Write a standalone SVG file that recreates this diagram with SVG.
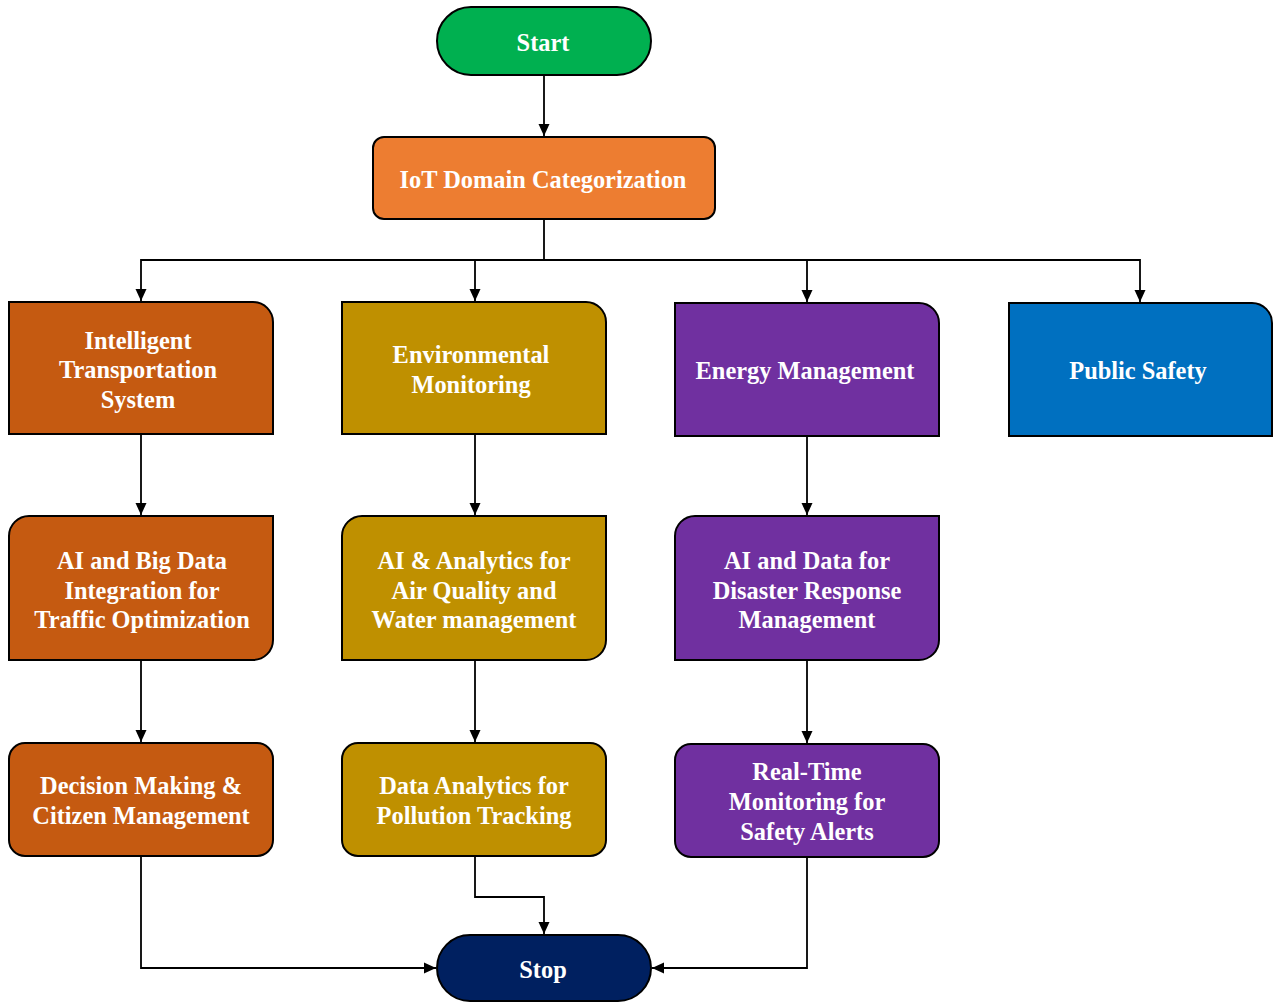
<svg xmlns="http://www.w3.org/2000/svg" width="1276" height="1003" viewBox="0 0 1276 1003">
  <defs>
    <marker id="arrow" viewBox="0 0 12 12" markerWidth="12" markerHeight="13" refX="12" refY="6" orient="auto" markerUnits="userSpaceOnUse">
      <path d="M0,0.5 L12,6 L0,11.5 Z" fill="#000"/>
    </marker>
  </defs>
  <style>
    .box { stroke: #000; stroke-width: 2; }
    .lbl { font-family: "Liberation Serif", "Times New Roman", serif; font-weight: bold; font-size: 24.4px; fill: #fff; text-anchor: middle; dominant-baseline: central; }
    .edge { fill: none; stroke: #000; stroke-width: 1.8; marker-end: url(#arrow); }
    .its { fill: #C55A11; }
    .env { fill: #BF9000; }
    .eng { fill: #7030A0; }
    .pub { fill: #0070C0; }
  </style>
  <rect width="1276" height="1003" fill="#fff"/>

  <g id="connectors">
    <path class="edge" d="M544,75 V136"/>
    <path class="edge" d="M544,219 V260 H141 V301"/>
    <path class="edge" d="M544,260 H475 V301"/>
    <path class="edge" d="M544,260 H807 V302"/>
    <path class="edge" d="M544,260 H1140 V302"/>
    <path class="edge" d="M141,434 V515"/>
    <path class="edge" d="M475,434 V515"/>
    <path class="edge" d="M807,436 V515"/>
    <path class="edge" d="M141,660 V742"/>
    <path class="edge" d="M475,660 V742"/>
    <path class="edge" d="M807,660 V743"/>
    <path class="edge" d="M141,856 V968 H436"/>
    <path class="edge" d="M475,856 V897 H544 V934"/>
    <path class="edge" d="M807,857 V968 H652"/>
  </g>

  <g id="start">
    <rect class="box" x="437" y="7" width="214" height="68" rx="34" fill="#00B050"/>
    <text class="lbl" x="543" y="42">Start</text>
  </g>

  <g id="iot-domain">
    <rect class="box" x="373" y="137" width="342" height="82" rx="11" fill="#ED7D31"/>
    <text class="lbl" x="543" y="179">IoT Domain Categorization</text>
  </g>

  <!-- domain row: rounded top-right corner -->
  <g id="its">
    <path class="box its" d="M9,302 H253 A20,20 0 0 1 273,322 V434 H9 Z"/>
    <text class="lbl" x="138" y="340">Intelligent</text>
    <text class="lbl" x="138" y="369">Transportation</text>
    <text class="lbl" x="138" y="399">System</text>
  </g>
  <g id="env">
    <path class="box env" d="M342,302 H586 A20,20 0 0 1 606,322 V434 H342 Z"/>
    <text class="lbl" x="471" y="354">Environmental</text>
    <text class="lbl" x="471" y="384">Monitoring</text>
  </g>
  <g id="energy">
    <path class="box eng" d="M675,303 H919 A20,20 0 0 1 939,323 V436 H675 Z"/>
    <text class="lbl" x="805" y="370">Energy Management</text>
  </g>
  <g id="public-safety">
    <path class="box pub" d="M1009,303 H1252 A20,20 0 0 1 1272,323 V436 H1009 Z"/>
    <text class="lbl" x="1138" y="370">Public Safety</text>
  </g>

  <!-- analytics row: rounded top-left and bottom-right corners -->
  <g id="its-ai">
    <path class="box its" d="M29,516 H273 V640 A20,20 0 0 1 253,660 H9 V536 A20,20 0 0 1 29,516 Z"/>
    <text class="lbl" x="142" y="560">AI and Big Data</text>
    <text class="lbl" x="142" y="590">Integration for</text>
    <text class="lbl" x="142" y="619">Traffic Optimization</text>
  </g>
  <g id="env-ai">
    <path class="box env" d="M362,516 H606 V640 A20,20 0 0 1 586,660 H342 V536 A20,20 0 0 1 362,516 Z"/>
    <text class="lbl" x="474" y="560">AI &amp; Analytics for</text>
    <text class="lbl" x="474" y="590">Air Quality and</text>
    <text class="lbl" x="474" y="619">Water management</text>
  </g>
  <g id="energy-ai">
    <path class="box eng" d="M695,516 H939 V640 A20,20 0 0 1 919,660 H675 V536 A20,20 0 0 1 695,516 Z"/>
    <text class="lbl" x="807" y="560">AI and Data for</text>
    <text class="lbl" x="807" y="590">Disaster Response</text>
    <text class="lbl" x="807" y="619">Management</text>
  </g>

  <!-- outcome row: fully rounded -->
  <g id="its-decision">
    <rect class="box its" x="9" y="743" width="264" height="113" rx="16"/>
    <text class="lbl" x="141" y="785">Decision Making &amp;</text>
    <text class="lbl" x="141" y="815">Citizen Management</text>
  </g>
  <g id="env-pollution">
    <rect class="box env" x="342" y="743" width="264" height="113" rx="16"/>
    <text class="lbl" x="474" y="785">Data Analytics for</text>
    <text class="lbl" x="474" y="815">Pollution Tracking</text>
  </g>
  <g id="energy-monitoring">
    <rect class="box eng" x="675" y="744" width="264" height="113" rx="16"/>
    <text class="lbl" x="807" y="771">Real-Time</text>
    <text class="lbl" x="807" y="801">Monitoring for</text>
    <text class="lbl" x="807" y="831">Safety Alerts</text>
  </g>

  <g id="stop">
    <rect class="box" x="437" y="935" width="214" height="66" rx="33" fill="#002060"/>
    <text class="lbl" x="543" y="969">Stop</text>
  </g>
</svg>
